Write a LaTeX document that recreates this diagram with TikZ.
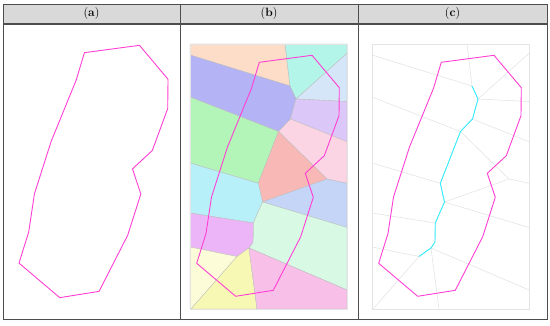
\documentclass[tikz,border=0pt]{standalone}
\definecolor{rule}{HTML}{4D4D4D}
\definecolor{headfill}{HTML}{D9D9D9}
\definecolor{outline}{HTML}{FF3FD4}
\definecolor{skel}{HTML}{33EEFF}
\definecolor{edgegray}{HTML}{E4E4E4}
\definecolor{cellline}{HTML}{BDBDBD}
\definecolor{peach}{HTML}{FDDCC8}
\definecolor{aqua}{HTML}{B3F5E8}
\definecolor{skyblue}{HTML}{D5E6F8}
\definecolor{slateblue}{HTML}{B3B3F5}
\definecolor{lavender}{HTML}{DCC8F8}
\definecolor{leaf}{HTML}{B3F5B8}
\definecolor{blush}{HTML}{FCD5E5}
\definecolor{salmon}{HTML}{F8B8B5}
\definecolor{ice}{HTML}{B8F0FA}
\definecolor{periwinkle}{HTML}{C5D5F8}
\definecolor{mint}{HTML}{D8FAE5}
\definecolor{orchid}{HTML}{EBB5F8}
\definecolor{cream}{HTML}{FCFCD8}
\definecolor{butter}{HTML}{F8F8B5}
\definecolor{rose}{HTML}{F8C0E8}
% outline of the region, in box pixels
\newcommand\contour{(69.3,18.3)--(122,11.3)--(149.3,43.7)--(149,71.7)--(134.3,111.7)
  --(115.3,129.3)--(123.3,153.3)--(110.7,192.7)--(83.3,246.3)--(45.7,252.3)
  --(6.7,219.3)--(16,189.5)--(21.5,153)--(37.5,103)--(61.5,44.3)--cycle}
% vertices of the cells
\newcommand\cellpts{%
 \coordinate (tl) at (0,0); \coordinate (tr) at (157,0);
 \coordinate (bl) at (0,265); \coordinate (br) at (157,265);
 \coordinate (A) at (95,0); \coordinate (B) at (100,42);
 \coordinate (C) at (106,55); \coordinate (D) at (100.5,75);
 \coordinate (E) at (88.5,87.5); \coordinate (G) at (137,135);
 \coordinate (H) at (72.5,158); \coordinate (I) at (68.3,139.3);
 \coordinate (J) at (63.3,179); \coordinate (M) at (63,198);
 \coordinate (L) at (59,204); \coordinate (N) at (47,212.5);
 \coordinate (O) at (67,265);
 \coordinate (l1) at (0,11); \coordinate (l2) at (0,53); \coordinate (l3) at (0,119);
 \coordinate (l4) at (0,169); \coordinate (l5) at (0,203); \coordinate (l6) at (1,265);
 \coordinate (r1) at (157,9.3); \coordinate (r2) at (157,57.5); \coordinate (r3) at (157,97.7);
 \coordinate (r4) at (157,139.3); \coordinate (r5) at (157,183.5); \coordinate (r6) at (157,246);}
\begin{document}
\begin{tikzpicture}[x=1pt,y=-1pt,
                    rulel/.style={draw=rule,line width=.9pt},
                    region/.style={draw=outline,line width=.9pt,line join=round},
                    cell/.style={draw=cellline,line width=.35pt},
                    edge/.style={draw=edgegray,line width=.6pt},
                    skeleton/.style={draw=skel,line width=.9pt,line join=round},
                    head/.style={font=\fontsize{12}{14}\selectfont}]
 \useasboundingbox (0,0) rectangle (550,326);
 % table
 \fill[headfill] (3,4) rectangle (547,24);
 \draw[rulel] (3,4) rectangle (547,319);
 \draw[rulel] (180,4)--(180,319) (358,4)--(358,319);
 \draw[rule,line width=1.4pt] (3,24)--(547,24);
 \node[head] (ha) at (91.5,14) {(\textbf{a})};
 \node[head] (hb) at (269,14) {(\textbf{b})};
 \node[head] (hc) at (452.5,14) {(\textbf{c})};
 % (a)
 \begin{scope}[shift={(12,33.5)},xscale=1.045,yscale=1.047]
  \draw[region] \contour;
 \end{scope}
 % (b)
 \begin{scope}[shift={(190,44)}]
  \cellpts
  \fill[cell,fill=peach] (tl)--(A)--(B)--(l1)--cycle;
  \fill[cell,fill=aqua] (A)--(tr)--(r1)--(C)--(B)--cycle;
  \fill[cell,fill=skyblue] (C)--(r1)--(r2)--cycle;
  \fill[cell,fill=slateblue] (l1)--(B)--(C)--(D)--(E)--(l2)--cycle;
  \fill[cell,fill=lavender] (C)--(r2)--(r3)--(D)--cycle;
  \fill[cell,fill=leaf] (l2)--(E)--(I)--(l3)--cycle;
  \fill[cell,fill=blush] (D)--(r3)--(r4)--(G)--(E)--cycle;
  \fill[cell,fill=salmon] (E)--(G)--(H)--(I)--cycle;
  \fill[cell,fill=ice] (l3)--(I)--(H)--(J)--(l4)--cycle;
  \fill[cell,fill=periwinkle] (H)--(G)--(r4)--(r5)--cycle;
  \fill[cell,fill=mint] (H)--(r5)--(r6)--(L)--(M)--(J)--cycle;
  \fill[cell,fill=orchid] (l4)--(J)--(M)--(L)--(N)--(l5)--cycle;
  \fill[cell,fill=cream] (l5)--(N)--(l6)--(bl)--cycle;
  \fill[cell,fill=butter] (N)--(L)--(O)--(l6)--cycle;
  \fill[cell,fill=rose] (L)--(r6)--(br)--(O)--cycle;
  \draw[edge] (tl) rectangle (br);
  \draw[region] \contour;
 \end{scope}
 % (c)
 \begin{scope}[shift={(372,44)}]
  \cellpts
  \draw[edge] (tl) rectangle (br);
  \draw[edge] (A)--(B) (l1)--(B)--(C)--(r1) (C)--(r2) (C)--(D)--(r3) (D)--(E)--(l2)
   (E)--(G)--(r4) (E)--(I)--(l3) (G)--(H)--(I) (H)--(r5) (H)--(J)--(l4)
   (J)--(M)--(L)--(r6) (L)--(N)--(l5) (L)--(O) (N)--(l6);
  \draw[skeleton] (B)--(C)--(D)--(E)--(I)--(H)--(J)--(M)--(L)--(N);
  \draw[region] \contour;
 \end{scope}
\end{tikzpicture}
\end{document}
